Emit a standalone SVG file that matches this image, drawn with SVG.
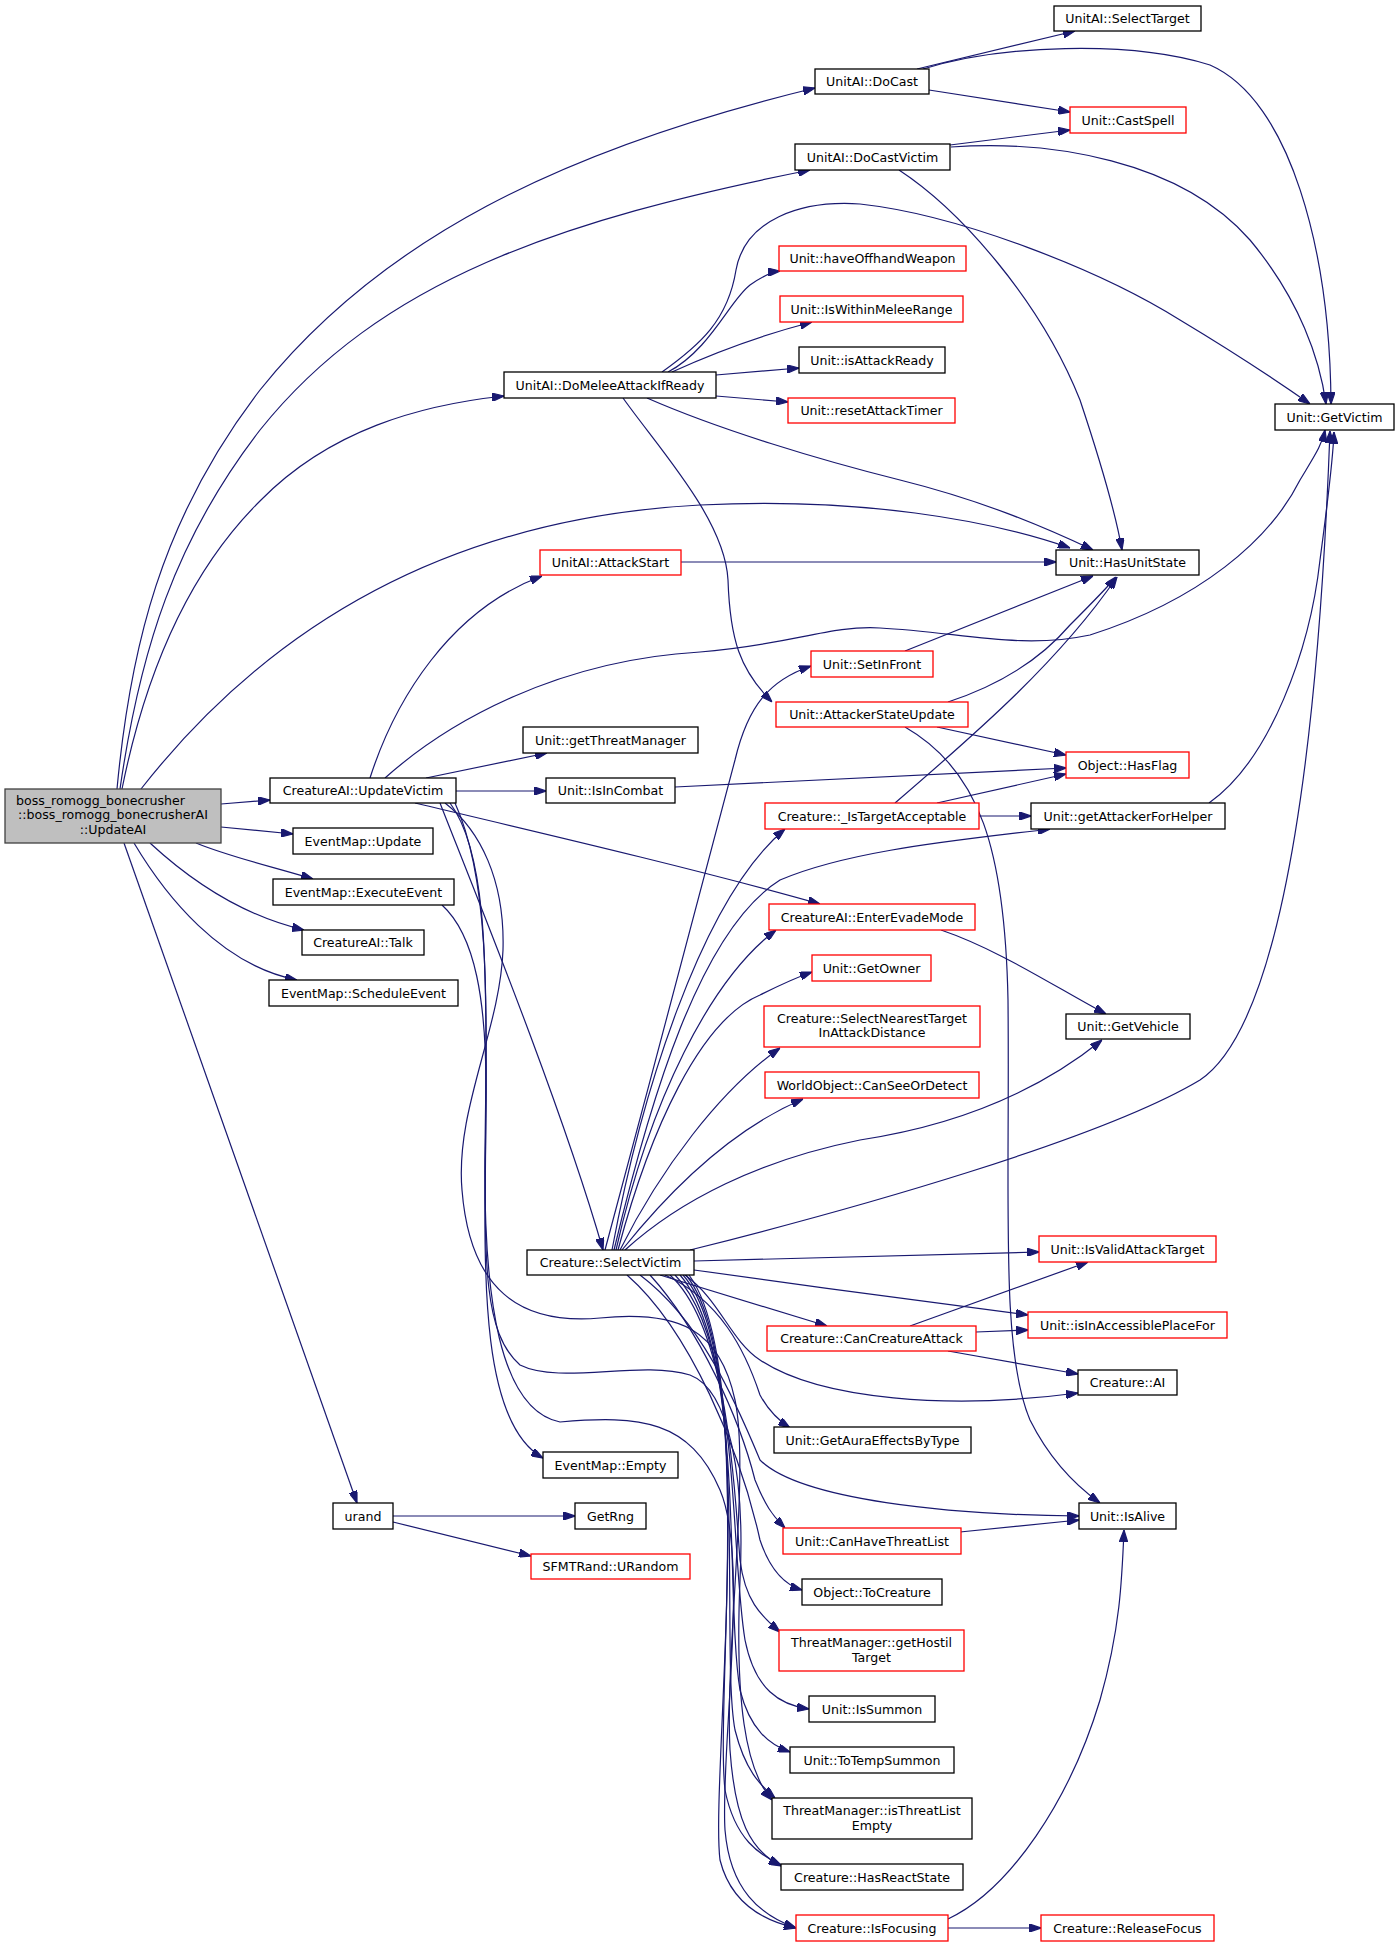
<svg xmlns="http://www.w3.org/2000/svg" width="1399" height="1947" viewBox="0 0 1399 1947">
<style>
rect{fill:#fff;stroke:#000;stroke-width:1.3}
.r rect{stroke:#f00}
.m rect{fill:#bfbfbf;stroke:#404040}
text{font-family:"DejaVu Sans",sans-serif;font-size:12.6px;fill:#000;text-anchor:middle}
.e path{fill:none;stroke:#191970;stroke-width:1.2;marker-end:url(#a)}
</style>
<defs>
<marker id="a" viewBox="0 0 10 7" refX="10" refY="3.5" markerWidth="12" markerHeight="8.4" markerUnits="userSpaceOnUse" orient="auto">
<path d="M0,0 L10,3.5 L0,7 z" fill="#191970" stroke="#191970"/>
</marker>
</defs>
<rect x="0" y="0" width="1399" height="1947" style="fill:#fff;stroke:none"/>
<g class="e" id="edges">
<path d="M117,789 C130,650 160,520 260,390 C380,240 560,150 815,88"/>
<path d="M120,789 C140,650 175,540 260,430 C380,280 560,220 810,170"/>
<path d="M122,789 C150,650 200,560 261,500 C330,430 420,405 504,396"/>
<path d="M141,789 C250,650 420,520 700,505 C860,497 990,520 1070,548"/>
<path d="M221,804 L270,800"/>
<path d="M221,827 L293,834"/>
<path d="M196,843 C230,857 270,866 313,879"/>
<path d="M150,843 C190,880 240,915 304,930"/>
<path d="M134,843 C165,895 220,965 297,980"/>
<path d="M124,843 L357,1503"/>
<path d="M917,69 L1075,31"/>
<path d="M929,90 L1070,112"/>
<path d="M923,69 C1000,45 1130,40 1210,65 C1290,100 1330,250 1331,404"/>
<path d="M950,145 L1070,130"/>
<path d="M951,147 C1050,140 1180,160 1250,240 C1300,300 1320,360 1326,404"/>
<path d="M899,170 C960,210 1040,300 1080,400 C1100,460 1115,510 1122,550"/>
<path d="M668,372 C710,350 730,300 750,285 C760,278 770,272 780,271"/>
<path d="M672,372 C720,350 770,333 812,322"/>
<path d="M716,375 L799,368"/>
<path d="M716,396 L788,402"/>
<path d="M662,372 C700,345 728,320 736,270 C745,220 800,200 860,204 C960,215 1100,270 1180,320 C1250,362 1290,390 1310,404"/>
<path d="M647,398 C720,430 820,460 900,480 C980,500 1040,525 1093,550"/>
<path d="M623,398 C660,450 725,520 728,580 C730,640 740,670 772,702"/>
<path d="M370,778 C395,700 450,610 542,576"/>
<path d="M385,778 C450,720 560,660 700,652 C790,645 830,625 880,628 C960,632 1020,650 1090,635 C1200,600 1270,540 1300,480 C1315,455 1322,445 1325,430"/>
<path d="M426,778 L547,753"/>
<path d="M456,791 L546,791"/>
<path d="M415,803 C550,835 700,870 820,904"/>
<path d="M440,803 C470,880 560,1100 603,1250"/>
<path d="M442,905 C475,935 487,1000 486,1100 C485,1250 475,1420 543,1458"/>
<path d="M445,803 C480,830 505,880 503,950 C500,1030 455,1110 462,1190 C470,1290 520,1325 600,1318 C680,1310 720,1330 735,1400 C750,1470 725,1650 730,1750 C735,1820 750,1850 781,1866"/>
<path d="M450,803 C485,850 487,950 486,1100 C485,1250 480,1330 520,1365 C560,1385 640,1360 690,1375 C730,1390 745,1480 740,1580 C735,1700 745,1770 772,1800"/>
<path d="M455,803 C490,880 487,1000 485,1150 C483,1300 500,1410 560,1422 C640,1415 690,1420 720,1490 C750,1560 720,1750 725,1830 C730,1890 760,1915 796,1928"/>
<path d="M605,1250 C650,1080 715,840 735,760 C748,705 770,680 811,666"/>
<path d="M612,1250 C640,1100 700,900 785,829"/>
<path d="M614,1250 C650,1100 700,930 780,880 C850,850 960,840 1050,829"/>
<path d="M616,1250 C650,1100 710,980 776,930"/>
<path d="M618,1250 C650,1130 700,1020 760,995 C780,985 795,978 812,972"/>
<path d="M620,1250 C660,1170 720,1090 780,1048"/>
<path d="M622,1250 C670,1190 730,1130 803,1099"/>
<path d="M625,1250 C680,1200 760,1160 860,1140 C960,1125 1040,1090 1102,1040"/>
<path d="M690,1250 C850,1210 1100,1140 1200,1080 C1290,1020 1320,700 1330,431"/>
<path d="M694,1261 L1039,1252"/>
<path d="M694,1270 C800,1285 950,1305 1028,1315"/>
<path d="M660,1275 L827,1326"/>
<path d="M685,1275 C720,1300 730,1340 760,1360 C820,1400 950,1410 1078,1393"/>
<path d="M665,1275 C720,1300 745,1350 760,1395 C768,1410 778,1420 790,1428"/>
<path d="M640,1275 C700,1320 735,1400 760,1460 C800,1500 950,1515 1079,1516"/>
<path d="M650,1275 C700,1330 740,1420 755,1480 C765,1505 772,1515 785,1528"/>
<path d="M627,1275 C690,1330 740,1450 760,1540 C770,1570 785,1585 802,1590"/>
<path d="M670,1275 C730,1330 735,1500 740,1560 C745,1600 760,1615 780,1632"/>
<path d="M675,1275 C740,1340 730,1550 745,1640 C755,1690 780,1705 809,1709"/>
<path d="M680,1275 C745,1350 725,1600 740,1690 C750,1730 770,1745 790,1752"/>
<path d="M683,1275 C750,1350 720,1650 735,1730 C745,1770 760,1785 775,1798"/>
<path d="M686,1275 C755,1360 715,1700 725,1790 C735,1840 760,1855 781,1865"/>
<path d="M689,1275 C760,1370 710,1780 720,1860 C730,1900 760,1920 796,1928"/>
<path d="M681,562 L1056,562"/>
<path d="M905,651 L1093,576"/>
<path d="M948,702 C1000,685 1040,660 1070,625 C1090,605 1105,590 1116,577"/>
<path d="M895,803 C980,730 1060,660 1117,577"/>
<path d="M937,727 L1066,755"/>
<path d="M937,803 L1066,774"/>
<path d="M675,787 L1066,768"/>
<path d="M979,816 L1031,816"/>
<path d="M1209,803 C1270,760 1310,650 1320,560 C1328,500 1333,460 1334,432"/>
<path d="M905,727 C980,770 1005,850 1008,1000 C1010,1200 1000,1350 1030,1420 C1050,1460 1075,1485 1100,1503"/>
<path d="M941,930 C1000,950 1060,990 1106,1014"/>
<path d="M910,1326 L1088,1262"/>
<path d="M976,1332 L1028,1330"/>
<path d="M948,1351 L1078,1374"/>
<path d="M960,1532 L1079,1520"/>
<path d="M948,1919 C1010,1890 1070,1800 1100,1700 C1120,1630 1122,1580 1124,1530"/>
<path d="M948,1928 L1041,1928"/>
<path d="M393,1516 L575,1516"/>
<path d="M393,1522 L531,1556"/>
</g>
<g id="boss" class="m"><rect x="5" y="789" width="216" height="54"/><text x="16" y="805" style="text-anchor:start">boss_romogg_bonecrusher</text><text x="113" y="819">::boss_romogg_bonecrusherAI</text><text x="113" y="833.5">::UpdateAI</text></g>
<g id="selectTarget"><rect x="1054" y="6" width="147" height="25"/><text x="1127.5" y="23">UnitAI::SelectTarget</text></g>
<g id="doCast"><rect x="815" y="69" width="114" height="25"/><text x="872" y="86">UnitAI::DoCast</text></g>
<g id="castSpell" class="r"><rect x="1070" y="107" width="116" height="26"/><text x="1128" y="124.5">Unit::CastSpell</text></g>
<g id="doCastVictim"><rect x="795" y="144" width="155" height="26"/><text x="872.5" y="161.5">UnitAI::DoCastVictim</text></g>
<g id="haveOffhand" class="r"><rect x="779" y="246" width="187" height="25"/><text x="872.5" y="263">Unit::haveOffhandWeapon</text></g>
<g id="withinMelee" class="r"><rect x="780" y="296" width="183" height="26"/><text x="871.5" y="313.5">Unit::IsWithinMeleeRange</text></g>
<g id="isAttackReady"><rect x="799" y="347" width="146" height="26"/><text x="872" y="364.5">Unit::isAttackReady</text></g>
<g id="doMelee"><rect x="504" y="372" width="212" height="26"/><text x="610" y="389.5">UnitAI::DoMeleeAttackIfReady</text></g>
<g id="resetTimer" class="r"><rect x="788" y="398" width="167" height="25"/><text x="871.5" y="415">Unit::resetAttackTimer</text></g>
<g id="getVictim"><rect x="1275" y="404" width="119" height="26"/><text x="1334.5" y="421.5">Unit::GetVictim</text></g>
<g id="attackStart" class="r"><rect x="540" y="550" width="141" height="25"/><text x="610.5" y="567">UnitAI::AttackStart</text></g>
<g id="hasUnitState"><rect x="1056" y="550" width="143" height="25"/><text x="1127.5" y="567">Unit::HasUnitState</text></g>
<g id="setInFront" class="r"><rect x="811" y="651" width="122" height="26"/><text x="872" y="668.5">Unit::SetInFront</text></g>
<g id="attackerState" class="r"><rect x="776" y="702" width="192" height="25"/><text x="872" y="719">Unit::AttackerStateUpdate</text></g>
<g id="getThreatMgr"><rect x="523" y="727" width="175" height="26"/><text x="610.5" y="744.5">Unit::getThreatManager</text></g>
<g id="hasFlag" class="r"><rect x="1066" y="752" width="123" height="26"/><text x="1127.5" y="769.5">Object::HasFlag</text></g>
<g id="updateVictim"><rect x="270" y="778" width="186" height="25"/><text x="363" y="795">CreatureAI::UpdateVictim</text></g>
<g id="isInCombat"><rect x="546" y="778" width="129" height="25"/><text x="610.5" y="795">Unit::IsInCombat</text></g>
<g id="isTargetAcc" class="r"><rect x="765" y="803" width="214" height="26"/><text x="872" y="820.5">Creature::_IsTargetAcceptable</text></g>
<g id="attackerForHelper"><rect x="1031" y="803" width="194" height="26"/><text x="1128" y="820.5">Unit::getAttackerForHelper</text></g>
<g id="emUpdate"><rect x="293" y="828" width="140" height="26"/><text x="363" y="845.5">EventMap::Update</text></g>
<g id="emExecute"><rect x="273" y="879" width="181" height="26"/><text x="363.5" y="896.5">EventMap::ExecuteEvent</text></g>
<g id="enterEvade" class="r"><rect x="769" y="904" width="206" height="26"/><text x="872" y="921.5">CreatureAI::EnterEvadeMode</text></g>
<g id="talk"><rect x="302" y="930" width="122" height="25"/><text x="363" y="947">CreatureAI::Talk</text></g>
<g id="getOwner" class="r"><rect x="812" y="955" width="119" height="26"/><text x="871.5" y="972.5">Unit::GetOwner</text></g>
<g id="emSchedule"><rect x="269" y="980" width="189" height="26"/><text x="363.5" y="997.5">EventMap::ScheduleEvent</text></g>
<g id="selectNearest" class="r"><rect x="764" y="1006" width="216" height="41"/><text x="872" y="1022.5">Creature::SelectNearestTarget</text><text x="872" y="1037">InAttackDistance</text></g>
<g id="getVehicle"><rect x="1066" y="1014" width="124" height="25"/><text x="1128" y="1031">Unit::GetVehicle</text></g>
<g id="canSee" class="r"><rect x="765" y="1072" width="214" height="26"/><text x="872" y="1089.5">WorldObject::CanSeeOrDetect</text></g>
<g id="validTarget" class="r"><rect x="1039" y="1236" width="177" height="26"/><text x="1127.5" y="1253.5">Unit::IsValidAttackTarget</text></g>
<g id="selectVictim"><rect x="527" y="1250" width="167" height="25"/><text x="610.5" y="1267">Creature::SelectVictim</text></g>
<g id="accessible" class="r"><rect x="1028" y="1312" width="199" height="26"/><text x="1127.5" y="1329.5">Unit::isInAccessiblePlaceFor</text></g>
<g id="canCreatureAttack" class="r"><rect x="767" y="1326" width="209" height="25"/><text x="871.5" y="1343">Creature::CanCreatureAttack</text></g>
<g id="creatureAI"><rect x="1078" y="1370" width="99" height="25"/><text x="1127.5" y="1387">Creature::AI</text></g>
<g id="auraEffects"><rect x="774" y="1427" width="197" height="26"/><text x="872.5" y="1444.5">Unit::GetAuraEffectsByType</text></g>
<g id="emEmpty"><rect x="543" y="1452" width="135" height="26"/><text x="610.5" y="1469.5">EventMap::Empty</text></g>
<g id="urand"><rect x="333" y="1503" width="60" height="26"/><text x="363" y="1520.5">urand</text></g>
<g id="getRng"><rect x="575" y="1503" width="71" height="26"/><text x="610.5" y="1520.5">GetRng</text></g>
<g id="isAlive"><rect x="1079" y="1503" width="97" height="26"/><text x="1127.5" y="1520.5">Unit::IsAlive</text></g>
<g id="canHaveThreat" class="r"><rect x="783" y="1528" width="178" height="26"/><text x="872" y="1545.5">Unit::CanHaveThreatList</text></g>
<g id="urandom" class="r"><rect x="531" y="1554" width="159" height="25"/><text x="610.5" y="1571">SFMTRand::URandom</text></g>
<g id="toCreature"><rect x="802" y="1579" width="140" height="26"/><text x="872" y="1596.5">Object::ToCreature</text></g>
<g id="hostilTarget" class="r"><rect x="779" y="1630" width="185" height="41"/><text x="871.5" y="1647">ThreatManager::getHostil</text><text x="871.5" y="1661.5">Target</text></g>
<g id="isSummon"><rect x="809" y="1696" width="126" height="26"/><text x="872" y="1713.5">Unit::IsSummon</text></g>
<g id="toTempSummon"><rect x="790" y="1747" width="164" height="26"/><text x="872" y="1764.5">Unit::ToTempSummon</text></g>
<g id="threatListEmpty"><rect x="772" y="1798" width="200" height="41"/><text x="872" y="1815">ThreatManager::isThreatList</text><text x="872" y="1829.5">Empty</text></g>
<g id="hasReactState"><rect x="781" y="1864" width="182" height="26"/><text x="872" y="1881.5">Creature::HasReactState</text></g>
<g id="isFocusing" class="r"><rect x="796" y="1915" width="152" height="26"/><text x="872" y="1932.5">Creature::IsFocusing</text></g>
<g id="releaseFocus" class="r"><rect x="1041" y="1915" width="173" height="26"/><text x="1127.5" y="1932.5">Creature::ReleaseFocus</text></g>
</svg>
